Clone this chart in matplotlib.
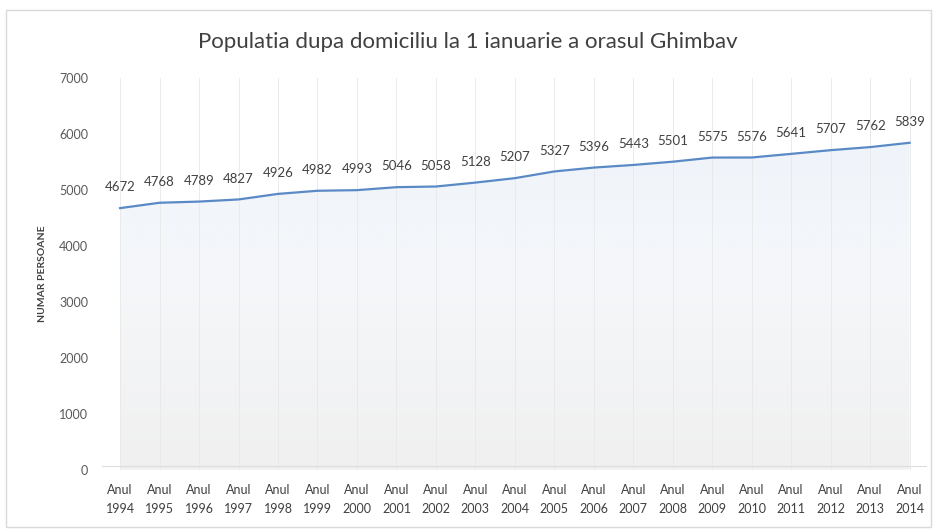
import numpy as np
import matplotlib.pyplot as plt
from matplotlib.patches import Rectangle
from matplotlib.colors import LinearSegmentedColormap

plt.rcParams['font.family'] = ['Lato', 'DejaVu Sans']

years = list(range(1994, 2015))
labels = [f"Anul\n{y}" for y in years]
population = [4672, 4768, 4789, 4827, 4926, 4982, 4993, 5046, 5058, 5128, 5207,
              5327, 5396, 5443, 5501, 5575, 5576, 5641, 5707, 5762, 5839]

fig = plt.figure(figsize=(9.35, 5.29), dpi=100)
fig.patches.append(Rectangle((0.006, 0.004), 0.99, 0.978, transform=fig.transFigure,
                             fill=False, edgecolor='#d9d9d9', linewidth=1))
ax = fig.add_axes([0.109, 0.112, 0.882, 0.741])

x = np.arange(len(years))
xmin, xmax = -0.46, 20.43
ax.set_xlim(xmin, xmax)
ax.set_ylim(0, 7000)

# soft gradient under the line
grad = np.linspace(0, 1, 256).reshape(-1, 1)
cmap = LinearSegmentedColormap.from_list('g', ['#f0f0f0', '#f5f7fa', '#edf3fa'])
im = ax.imshow(grad, extent=[xmin, xmax, 0, 7000], aspect='auto', origin='lower',
               cmap=cmap, zorder=0)
poly = ax.fill_between(x, population, 0, color='none', linewidth=0)
im.set_clip_path(poly.get_paths()[0], transform=ax.transData)

for xi in x:
    ax.axvline(xi, color='#e8e8e8', linewidth=0.6, zorder=1)
ax.axhline(60, color='#dcdcdc', linewidth=0.8, zorder=1)

ax.plot(x, population, color='#5a8ac6', linewidth=1.6, zorder=3)
for xi, v in zip(x, population):
    ax.annotate(str(v), (xi, v), xytext=(0, 15), textcoords='offset points',
                ha='center', va='center', fontsize=9.5, color='#404040')

ax.set_xticks(x)
ax.set_xticklabels(labels, fontsize=9, color='#404040', linespacing=1.75)
ax.set_yticks(range(0, 7001, 1000))
ax.tick_params(axis='y', labelsize=9, colors='#595959', length=0, pad=10)
ax.tick_params(axis='x', length=0, pad=10)
for s in ax.spines.values():
    s.set_visible(False)

ax.set_ylabel('NUMAR PERSOANE', fontsize=7.5, fontweight='bold', color='#404040')
ax.yaxis.set_label_coords(-0.066, 0.5)
fig.text(0.5, 0.92, 'Populatia dupa domiciliu la 1 ianuarie a orasul Ghimbav',
         ha='center', va='center', fontsize=16, color='#404040')

fig.savefig('out.png', dpi=100)
